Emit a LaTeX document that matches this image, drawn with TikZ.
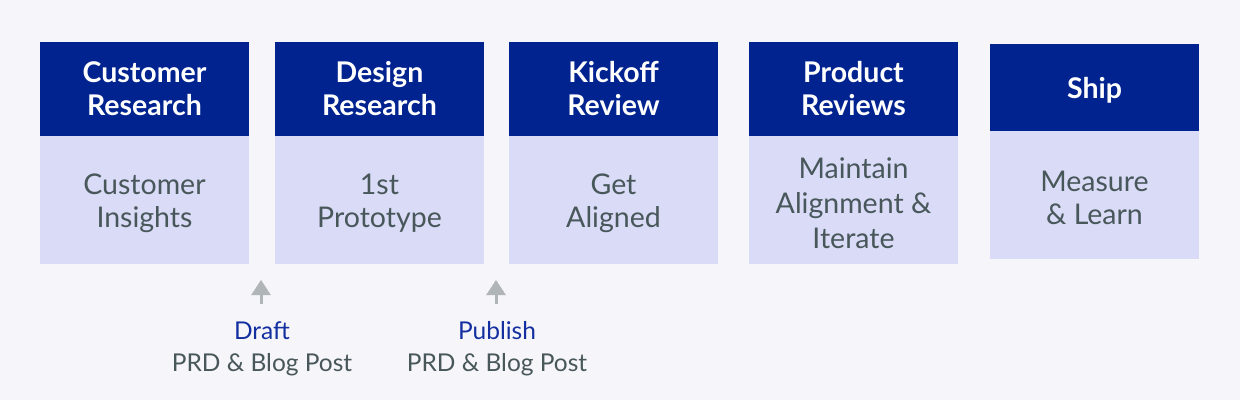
\documentclass[tikz,border=0pt]{standalone}
\usepackage{fontspec}
\setmainfont{Lato}
\usetikzlibrary{arrows.meta}
\definecolor{bg}{HTML}{F5F5FA}
\definecolor{hdrblue}{HTML}{00238F}
\definecolor{bodylav}{HTML}{D9DBF7}
\definecolor{bodytxt}{HTML}{48575A}
\definecolor{lblblue}{HTML}{1430A0}
\definecolor{arrgray}{HTML}{B0B5B8}
\tikzset{
  hdr/.style={fill=hdrblue, text=white, minimum width=209pt, inner sep=0pt, align=center,
    font=\fontsize{28.5}{33}\selectfont\bfseries},
  bodybox/.style={fill=bodylav, minimum width=209pt, minimum height=128pt, inner sep=0pt},
  btxt/.style={text=bodytxt, inner sep=0pt, align=center, yshift=-3pt,
    font=\fontsize{28.5}{33}\selectfont},
  lbl/.style={align=center, inner sep=0pt, font=\fontsize{24.5}{32}\selectfont},
  uparrow/.style={draw=arrgray, line width=3pt, -{Triangle[width=19pt,length=15pt]}}
}
\begin{document}
\begin{tikzpicture}[x=1pt,y=-1pt]
\fill[bg] (0,0) rectangle (1240,400);
\useasboundingbox (0,0) rectangle (1240,400);
% box 1
\node[hdr, minimum height=94pt] (h1) at (144.5,89) {Customer\\Research};
\node[bodybox, label={[btxt]center:{Customer\\Insights}}] (b1) at (144.5,200) {};
% box 2
\node[hdr, minimum height=94pt] (h2) at (379.5,89) {Design\\Research};
\node[bodybox, label={[btxt]center:{1st\\Prototype}}] (b2) at (379.5,200) {};
% box 3
\node[hdr, minimum height=94pt] (h3) at (613.5,89) {Kickoff\\Review};
\node[bodybox, label={[btxt]center:{Get\\Aligned}}] (b3) at (613.5,200) {};
% box 4
\node[hdr, minimum height=94pt] (h4) at (853.5,89) {Product\\Reviews};
\node[bodybox, label={[btxt, font=\fontsize{28.5}{35}\selectfont]center:{Maintain\\Alignment \&\\Iterate}}] (b4) at (853.5,200) {};
% box 5
\node[hdr, minimum height=87pt, label={[text=white, inner sep=0pt, yshift=-3pt, font=\fontsize{28.5}{33}\selectfont\bfseries]center:Ship}] (h5) at (1094.5,87.5) {};
\node[bodybox, label={[btxt]center:{Measure\\\& Learn}}] (b5) at (1094.5,195) {};
% labels
\node[lbl] (l1) at (262,349) {\textcolor{lblblue}{Draft}\\\textcolor{bodytxt}{PRD \& Blog Post}};
\node[lbl] (l2) at (497,349) {\textcolor{lblblue}{Publish}\\\textcolor{bodytxt}{PRD \& Blog Post}};
% arrows
\coordinate (a1s) at (261,304);
\coordinate (a1e) at (261,280);
\coordinate (a2s) at (496,304);
\coordinate (a2e) at (496,280);
\draw[uparrow] (a1s) -- (a1e);
\draw[uparrow] (a2s) -- (a2e);
\end{tikzpicture}
\end{document}
